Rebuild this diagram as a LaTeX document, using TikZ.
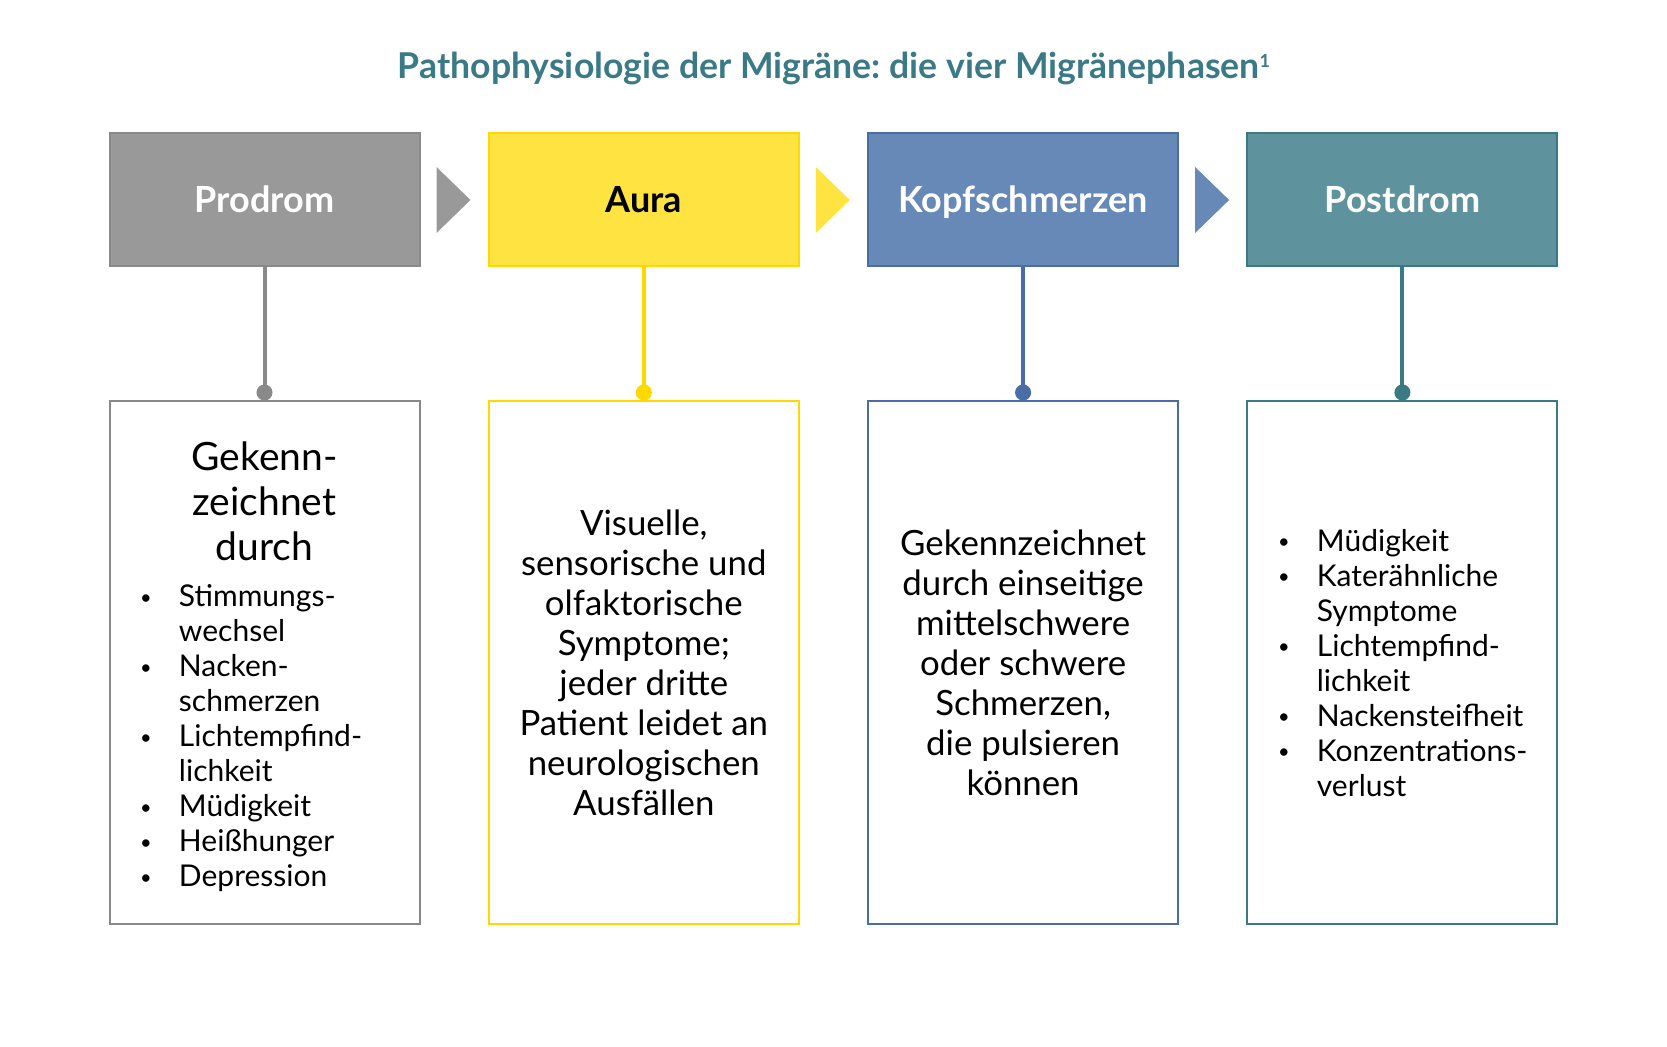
\documentclass[tikz,border=0pt]{standalone}
\usepackage{fontspec}
\setmainfont{Lato}
\usepackage{array}
\usetikzlibrary{arrows.meta}
\usetikzlibrary{positioning}
\usetikzlibrary{calc}
\frenchspacing

\definecolor{titleteal}{HTML}{3A7986}
\definecolor{prodfill}{HTML}{999999}
\definecolor{prodline}{HTML}{898989}
\definecolor{aurafill}{HTML}{FFE341}
\definecolor{auraline}{HTML}{FFD800}
\definecolor{kopffill}{HTML}{6689B8}
\definecolor{kopfline}{HTML}{4A6DA6}
\definecolor{postfill}{HTML}{5E929C}
\definecolor{postline}{HTML}{3B7985}

\newcommand{\bigtxt}{\fontsize{19.5}{22.5}\selectfont}
\newcommand{\midtxt}{\fontsize{17.4}{20}\selectfont}
\newcommand{\listtxt}{\fontsize{15}{17.5}\selectfont}
\newcommand{\bul}{\raisebox{1.2pt}{\fontsize{10}{10}\selectfont\textbullet}}
\newcolumntype{B}{@{}>{\centering\arraybackslash}p{8pt}@{\hspace{12.5pt}}p{106pt}@{}}

\tikzset{
	phase/.style={draw, line width=1pt, minimum width=155pt, minimum height=66.5pt,
		text height=12.5pt, text depth=0pt, font=\fontsize{18}{21}\selectfont\bfseries},
	info/.style={draw, line width=1pt, fill=white, minimum width=155pt,
		minimum height=261.5pt, align=center},
	link/.style={line width=2pt, -{Circle[length=8pt]}},
}

\begin{document}
\begin{tikzpicture}[x=0.5pt,y=-0.5pt,node distance=33.65pt]
	\useasboundingbox (0,0) rectangle (1667,1047);
	\node[font=\fontsize{17.8}{21}\selectfont\bfseries, text=titleteal] (title) at (834,68)
		{Pathophysiologie der Migräne: die vier Migränephasen\raisebox{5.5pt}{\fontsize{9}{9}\selectfont 1}};
	% phases
	\node[phase, fill=prodfill, draw=prodline, text=white] (prodrom) at (264.5,200) {Prodrom};
	\node[phase, fill=aurafill, draw=auraline] (aura) [right=of prodrom] {Aura};
	\node[phase, fill=kopffill, draw=kopfline, text=white] (kopf) [right=of aura] {Kopfschmerzen};
	\node[phase, fill=postfill, draw=postline, text=white] (postdrom) [right=of kopf] {Postdrom};
	\fill[prodfill] ($(prodrom.east)+(16,-33)$) -- ++(34,33) -- ++(-34,33) -- cycle;
	\fill[aurafill] ($(aura.east)+(16,-33)$) -- ++(34,33) -- ++(-34,33) -- cycle;
	\fill[kopffill] ($(kopf.east)+(16,-33)$) -- ++(34,33) -- ++(-34,33) -- cycle;
	% symptoms
	\node[info, draw=prodline, font=\bigtxt] (prodinfo) [below=66.5pt of prodrom]
		{\rule{0pt}{21pt}Gekenn-\\zeichnet\\durch\\[0.5pt]{\listtxt\begin{tabular}[t]{B}
			\bul & Stimmungs-\\
			 & wechsel\\
			\bul & Nacken-\\
			 & schmerzen\\
			\bul & Lichtempfind-\\
			 & lichkeit\\
			\bul & Müdigkeit\\
			\bul & Heißhunger\\
			\bul & Depression
		\end{tabular}}};
	\node[info, draw=auraline, font=\midtxt] (aurainfo) [below=66.5pt of aura]
		{Visuelle,\\sensorische und\\olfaktorische\\Symptome;\\jeder dritte\\Patient leidet an\\neurologischen\\Ausfällen};
	\node[info, draw=kopfline, font=\midtxt] (kopfinfo) [below=66.5pt of kopf]
		{Gekennzeichnet\\durch einseitige\\mittelschwere\\oder schwere\\Schmerzen,\\die pulsieren\\können};
	\node[info, draw=postline, font=\listtxt] (postinfo) [below=66.5pt of postdrom]
		{\begin{tabular}{B}
			\bul & \rule{0pt}{16pt}Müdigkeit\\
			\bul & Katerähnliche\\
			 & Symptome\\
			\bul & Lichtempfind-\\
			 & lichkeit\\
			\bul & Nackensteifheit\\
			\bul & Konzentrations-\\
			 & verlust
		\end{tabular}};
	\draw[link, prodline] (prodrom) -- (prodinfo);
	\draw[link, auraline] (aura) -- (aurainfo);
	\draw[link, kopfline] (kopf) -- (kopfinfo);
	\draw[link, postline] (postdrom) -- (postinfo);
\end{tikzpicture}
\end{document}
